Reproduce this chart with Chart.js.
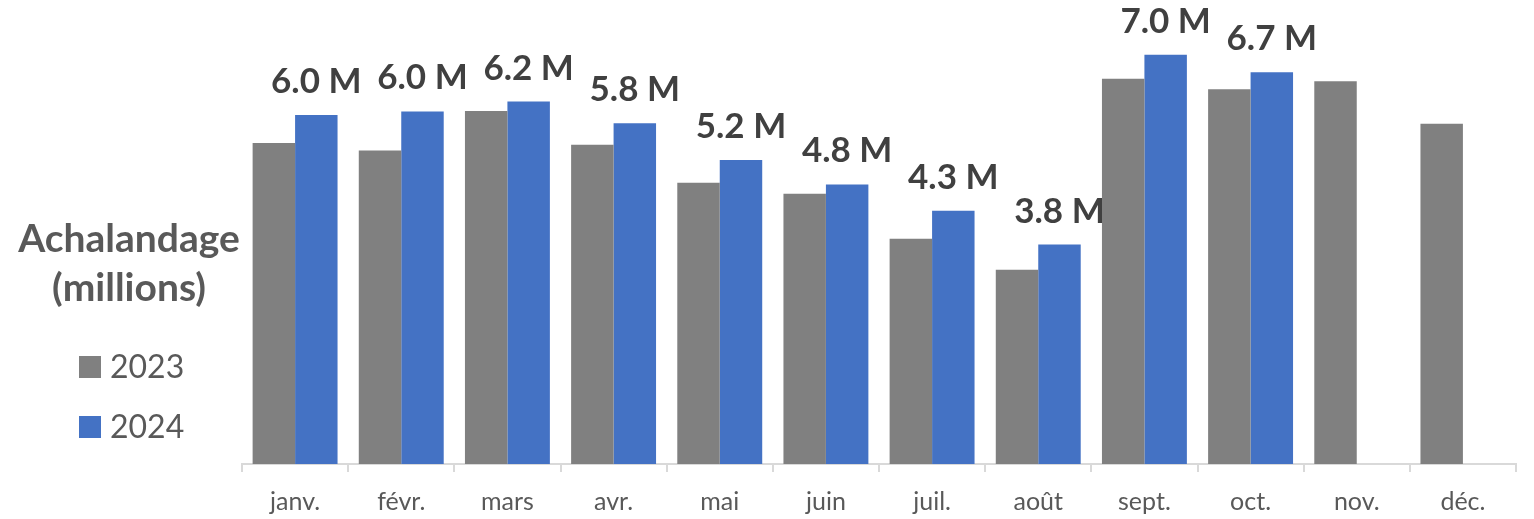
<!DOCTYPE html>
<html>
<head>
<meta charset="utf-8">
<script src="https://cdn.jsdelivr.net/npm/chart.js@4/dist/chart.umd.min.js"></script>
<style>
  html, body { margin: 0; padding: 0; background: #fff; }
  #wrap { position: relative; width: 1534px; height: 519px; overflow: hidden; }
  #chart { position: absolute; left: 0; top: 0; }
  .side { position: absolute; font-family: Lato, "Open Sans", sans-serif; color: #595959; }
  #title { left: 0; width: 258px; top: 213px; text-align: center; font-weight: bold; font-size: 39px; line-height: 49px; }
  .item { left: 79px; font-size: 32px; white-space: nowrap; }
  .item span { display: inline-block; width: 22px; height: 22px; margin-right: 9px; }
</style>
</head>
<body>
<div id="wrap">
  <canvas id="chart" width="1534" height="519"></canvas>
  <div class="side" id="title">Achalandage<br>(millions)</div>
  <div class="side item" style="top:346px"><span style="background:#808080"></span>2023</div>
  <div class="side item" style="top:406px"><span style="background:#4472C4"></span>2024</div>
</div>
<script>
const months = ['janv.', 'févr.', 'mars', 'avr.', 'mai', 'juin', 'juil.', 'août', 'sept.', 'oct.', 'nov.', 'déc.'];
const values2023 = [5.50, 5.37, 6.05, 5.47, 4.82, 4.63, 3.86, 3.33, 6.60, 6.42, 6.56, 5.83];
const values2024 = [5.98, 6.04, 6.21, 5.84, 5.21, 4.79, 4.34, 3.76, 7.01, 6.71, null, null];

const gray = '#808080';
const blue = '#4472C4';

// labels au-dessus des barres 2024
const topLabels = {
  id: 'topLabels',
  afterDatasetsDraw(chart) {
    const ctx = chart.ctx;
    const meta = chart.getDatasetMeta(1);
    ctx.save();
    ctx.font = 'bold 35px Lato, "Open Sans", sans-serif';
    ctx.fillStyle = '#404040';
    ctx.textAlign = 'center';
    ctx.textBaseline = 'alphabetic';
    meta.data.forEach((bar, i) => {
      const v = values2024[i];
      if (v == null) return;
      ctx.fillText(v.toFixed(1) + ' M', bar.x, bar.y - 22);
    });
    ctx.restore();
  }
};

new Chart(document.getElementById('chart'), {
  type: 'bar',
  data: {
    labels: months,
    datasets: [
      { label: '2023', data: values2023, backgroundColor: gray },
      { label: '2024', data: values2024, backgroundColor: blue }
    ]
  },
  options: {
    responsive: false,
    animation: false,
    layout: { padding: { left: 242, right: 18, top: 0, bottom: -13 } },
    datasets: { bar: { barPercentage: 1, categoryPercentage: 0.8 } },
    plugins: {
      legend: { display: false },
      tooltip: { enabled: false }
    },
    scales: {
      y: { display: false, min: 0, max: 7.95 },
      x: {
        grid: { drawOnChartArea: false, drawTicks: true, tickLength: 8, color: '#d9d9d9', lineWidth: 2 },
        border: { color: '#d9d9d9', width: 2 },
        ticks: { color: '#595959', padding: 15, font: { family: 'Lato, "Open Sans", sans-serif', size: 25 } }
      }
    }
  },
  plugins: [topLabels]
});
</script>
</body>
</html>
